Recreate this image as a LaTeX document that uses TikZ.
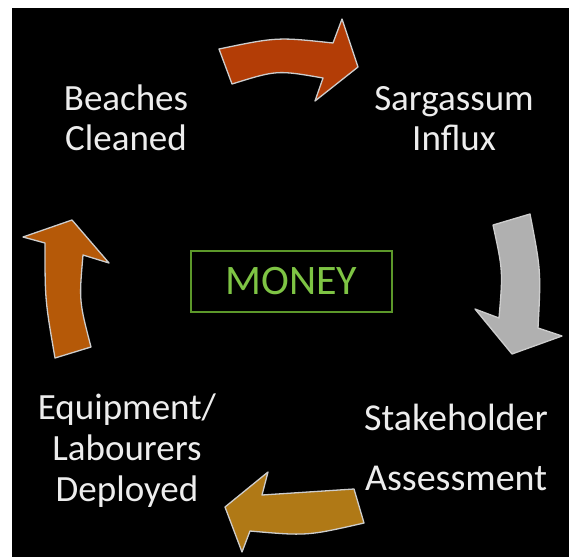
\documentclass[tikz,border=0pt]{standalone}
\usepackage{fontspec}
\setmainfont{Carlito}
\definecolor{rust}{RGB}{179,61,6}
\definecolor{ash}{RGB}{176,176,176}
\definecolor{ochre}{RGB}{176,121,22}
\definecolor{amber}{RGB}{181,89,8}
\definecolor{leaf}{RGB}{126,196,68}
\definecolor{moss}{RGB}{92,152,42}
\definecolor{rim}{RGB}{205,205,205}
\begin{document}
\begin{tikzpicture}[x=1pt,y=-1pt,
  stage/.style={text=white!93!black,align=center,inner sep=0pt,
    font=\fontsize{37}{40}\selectfont},
  bigarrow/.style={draw=rim,line width=1.3pt,line join=round}]
  \useasboundingbox (0,0) rectangle (569,558);
  \fill[black] (12,8) rectangle (569,557);
  \node[stage] (cleaned) at (126,118) {Beaches\\Cleaned};
  \node[stage] (influx) at (454,119) {Sargassum\\Influx};
  \node[stage,font=\fontsize{38}{40}\selectfont] (assess) at (456,447)
    {Stakeholder\\[20pt]Assessment};
  \node[stage,font=\fontsize{37}{41}\selectfont] (deploy) at (127,451)
    {Equipment/\\Labourers\\Deployed};
  \node[draw=moss,line width=2pt,text=leaf,font=\fontsize{42}{48}\selectfont,
    minimum width=201pt,minimum height=61pt] (money) at (291.5,281.5) {MONEY};
  \draw[bigarrow,fill=rust] (219,49) .. controls (277,37) .. (333,43)
    -- (342,19) -- (358,67) -- (315,101) -- (323,78)
    .. controls (277,70) .. (232,84) -- cycle;
  \draw[bigarrow,fill=ash] (493,225) -- (530,214)
    .. controls (541,271) .. (538,328) -- (562,336) -- (512,354)
    -- (475,309) -- (499,318) .. controls (503,271) .. (493,225) -- cycle;
  \draw[bigarrow,fill=ochre] (354,489) -- (364,523)
    .. controls (307,536) .. (250,531) -- (242,552) -- (225,507)
    -- (268,472) -- (262,495) .. controls (308,492) .. (354,489) -- cycle;
  \draw[bigarrow,fill=amber] (55,358) -- (91,347)
    .. controls (79,301) .. (83,255) -- (109,263) -- (72,220)
    -- (23,237) -- (45,243) .. controls (45,300) .. (55,358) -- cycle;
\end{tikzpicture}
\end{document}
